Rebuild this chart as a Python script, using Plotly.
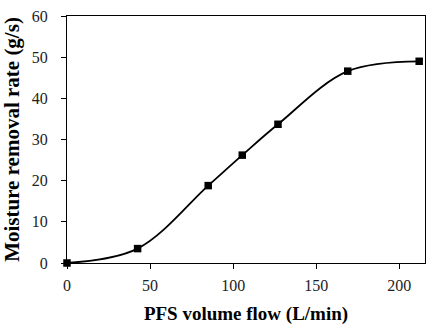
import plotly.graph_objects as go

flow = [0, 42.5, 85, 105.5, 127, 169, 212]
rate = [0, 3.5, 18.8, 26.2, 33.7, 46.6, 49.0]

x_ticks = [0, 50, 100, 150, 200]
y_ticks = [0, 10, 20, 30, 40, 50, 60]

fig = go.Figure()
fig.add_trace(go.Scatter(
    x=flow, y=rate, mode="lines+markers",
    line=dict(color="black", width=1.8, shape="spline", smoothing=1.0),
    marker=dict(symbol="square", size=7.5, color="black"),
    showlegend=False, cliponaxis=False,
))

axis_common = dict(
    showline=True, linecolor="black", linewidth=1, mirror=True,
    ticks="outside", ticklen=5, tickcolor="black", tickwidth=1,
    showgrid=False, zeroline=False,
    tickfont=dict(family="Liberation Serif", size=16, color="#222"),
)

fig.update_xaxes(range=[0, 215.5], tickvals=x_ticks, ticklabelstandoff=3,
                 title=dict(text="<b>PFS volume flow (L/min)</b>",
                            font=dict(family="Liberation Serif", size=19, color="black"),
                            standoff=13),
                 **axis_common)
fig.update_yaxes(range=[0, 60], tickvals=y_ticks, ticklabelstandoff=10,
                 title=dict(text="<b>Moisture removal rate (g/s)</b>",
                            font=dict(family="Liberation Serif", size=21, color="black"),
                            standoff=6),
                 **axis_common)

fig.update_layout(
    width=434, height=330,
    margin=dict(l=67, r=8, t=12, b=67),
    paper_bgcolor="white", plot_bgcolor="white",
)

fig.write_html("out.html")
